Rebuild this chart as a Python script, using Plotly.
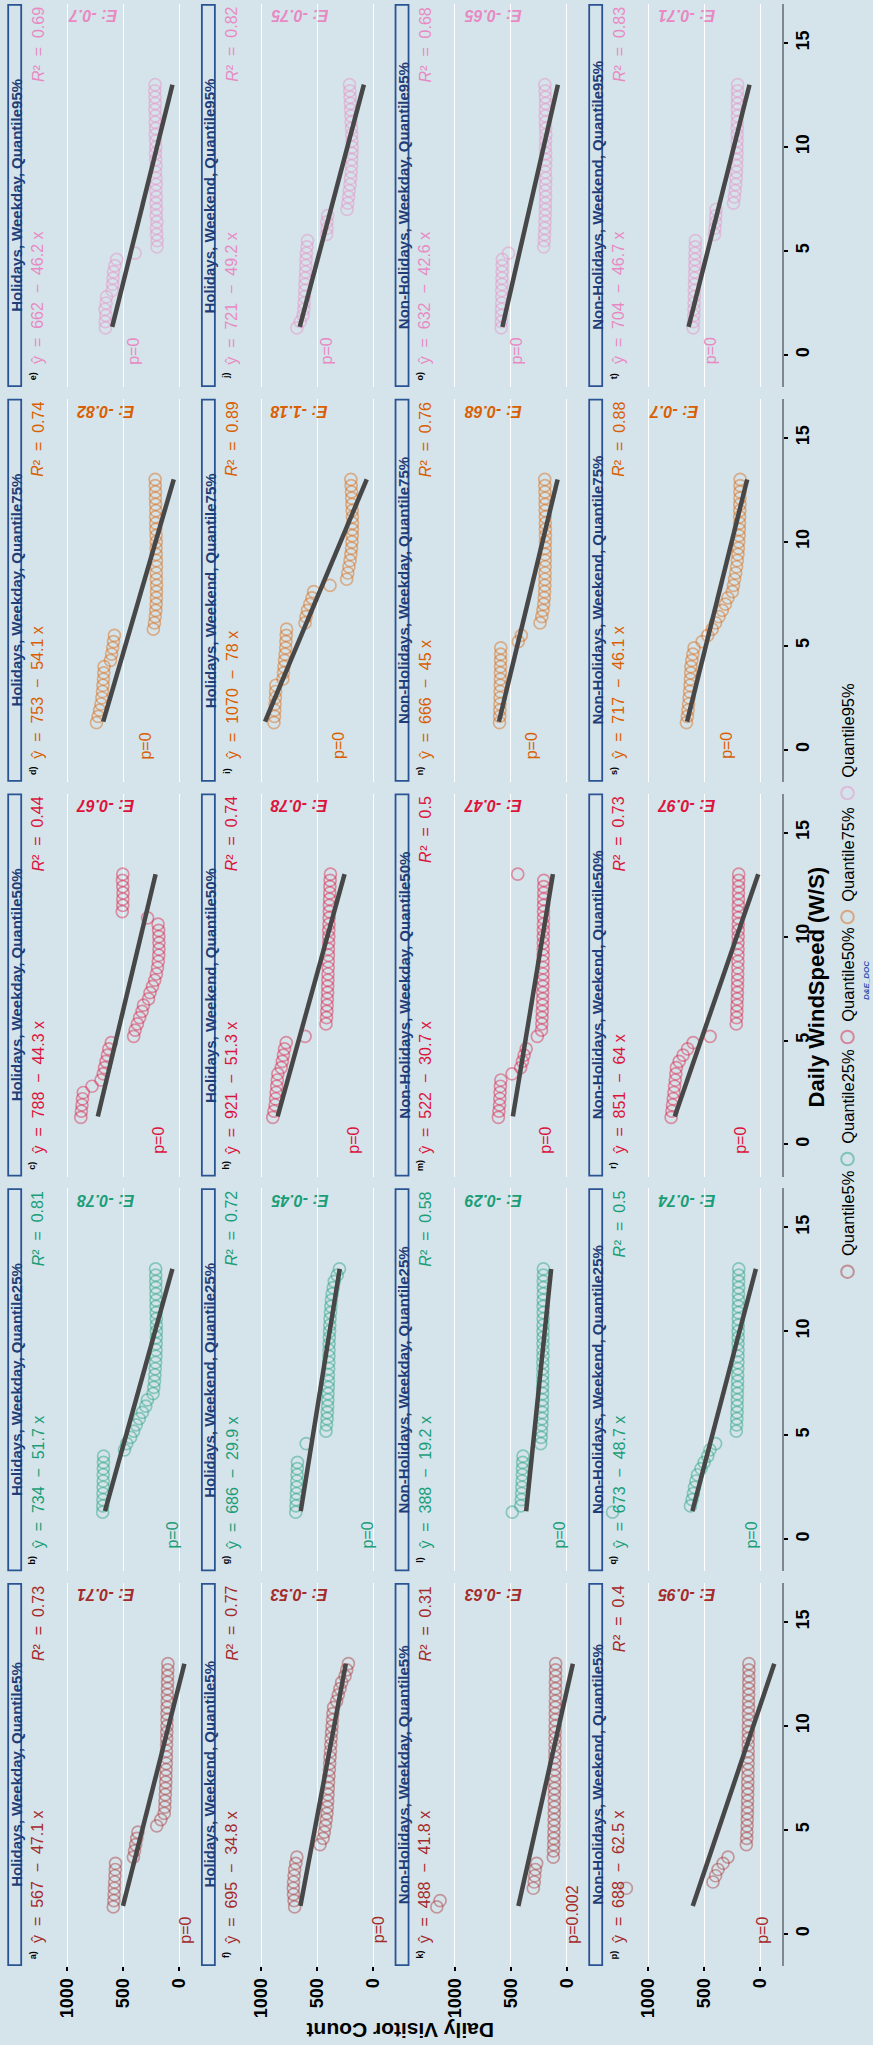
import plotly.graph_objects as go

# ---------------- data ----------------
WS = [1.3, 1.6, 1.9, 2.2, 2.5, 2.8, 3.1, 3.4, 3.7, 4.0, 4.3, 4.6, 4.9, 5.2, 5.5, 5.8, 6.1, 6.4, 6.7, 7.0,
      7.3, 7.6, 7.9, 8.2, 8.5, 8.8, 9.1, 9.4, 9.7, 10.0, 10.3, 10.6, 10.9, 11.2, 11.5, 11.8, 12.1, 12.4, 12.7, 13.0]

GROUPS = ["Holidays, Weekday", "Holidays, Weekend", "Non-Holidays, Weekday", "Non-Holidays, Weekend"]
QUANTS = ["Quantile5%", "Quantile25%", "Quantile50%", "Quantile75%", "Quantile95%"]
COLORS = ["#A52A2A", "#1B9E77", "#DC143C", "#D95F02", "#E78AC3"]

hol_wkday_q05 = [590, 585, 582, 580, 578, 575, 572, 570, 410, 400, 390, 380, 370, 202, 165,
                 135, 130, 128, 125, 123, 121, 120, 118, 117, 116, 115, 114, 113, 112, 111,
                 110, 110, 109, 108, 107, 106, 105, 104, 103, 102]
hol_wkday_q25 = [685, 684, 683, 682, 681, 680, 680, 679, 678, 677, 490, 470, 435, 408, 385,
                 358, 330, 300, 285, 235, 228, 222, 218, 215, 212, 210, 208, 207, 206, 205,
                 205, 206, 207, 208, 208, 209, 210, 210, 211, 212]
hol_wkday_q50 = [880, 875, 870, 865, 858, 780, 700, 680, 668, 655, 642, 630, 608, 408, 395,
                 375, 355, 333, 320, 275, 262, 240, 220, 205, 195, 188, 184, 182, 182, 183,
                 185, 190, 284, 510, 505, 505, 503, 505, 508, 505]
hol_wkday_q75 = [740, 725, 712, 700, 692, 686, 682, 678, 675, 672, 615, 605, 595, 588, 580,
                 232, 222, 215, 210, 207, 205, 204, 203, 205, 206, 204, 205, 207, 208, 206,
                 208, 210, 211, 212, 210, 212, 214, 213, 215, 216]
hol_wkday_q95 = [660, 662, 657, 664, 655, 650, 600, 596, 592, 588, 576, 560, 395, 200, 198,
                 203, 205, 200, 207, 204, 208, 205, 210, 206, 209, 212, 208, 211, 214, 210,
                 213, 215, 212, 216, 214, 218, 215, 217, 219, 216]
hol_wkend_q05 = [700, 705, 710, 712, 710, 705, 700, 690, 680, None, 473, 446, 435, 425, 418,
                 412, 408, 405, 402, 400, 397, 394, 390, 387, 384, 380, 377, 374, 370, 366,
                 362, 358, 352, 325, 310, 295, 280, 250, 235, 220]
hol_wkend_q25 = [690, 688, 686, 684, 682, 680, 678, 676, 675, None, None, 597, None, 420, 415,
                 410, 408, 405, 403, 402, 400, 398, 398, 396, 395, 394, 393, 392, 390, 388,
                 386, 384, 380, 376, 372, 365, 355, 346, 320, 300]
hol_wkend_q50 = [895, 885, 875, 870, 865, 860, 855, 850, 820, 810, 800, 790, 775, 607, None,
                 420, 415, 412, 410, 408, 405, 405, 403, 402, 400, 400, 398, 398, 396, 395,
                 395, 393, 392, 390, 390, 388, 386, 385, 383, 380]
hol_wkend_q75 = [885, 880, 878, 875, 872, 870, 868, 805, 800, 795, 790, 785, 780, 778, 775,
                 772, 607, 598, 585, 565, 545, 530, 384, 235, 225, 215, 205, 198, 192, 188,
                 185, 184, 183, 184, 186, 188, 190, 192, 195, 198]
hol_wkend_q95 = [680, 650, 625, 618, 615, 612, 610, 607, 605, 603, 600, 598, 595, 590, 585,
                 415, 410, 412, 405, 232, 225, 218, 212, 205, 200, 195, 192, 190, 188, 186,
                 188, 190, 192, 195, 197, 200, 202, 205, 207, 210]
nonhol_wkday_q05 = [1160, 1131, None, 298, 290, 285, 280, 268, 120, 118, 116, 115, 114, 113, 112,
                    111, 110, 110, 109, 108, 108, 107, 106, 106, 105, 105, 104, 104, 103, 103,
                    102, 102, 101, 101, 100, 100, 100, 99, 99, 98]
nonhol_wkday_q25 = [486, 410, 405, 402, 400, 398, 396, 395, 393, 390, None, 232, 228, 225, 222,
                    220, 218, 217, 216, 215, 215, 214, 214, 213, 213, 212, 212, 212, 211, 211,
                    211, 210, 210, 210, 210, 209, 209, 209, 208, 208]
nonhol_wkday_q50 = [610, 605, 600, 597, 595, 592, 588, 488, 411, 395, 380, 362, None, 262, 225,
                    222, 220, 218, 216, 215, 214, 213, 212, 212, 211, 211, 210, 210, 209, 209,
                    208, 208, 207, 207, 206, 206, 205, 205, 204, 437]
nonhol_wkday_q75 = [600, 598, 597, 596, 595, 594, 593, 592, 592, 591, 590, 590, 589, 432, 405,
                    None, 238, 222, 212, 205, 200, 197, 195, 194, 193, 192, 192, 191, 191, 190,
                    190, 190, 191, 191, 192, 192, 193, 194, 195, 196]
nonhol_wkday_q95 = [585, 584, 583, 582, 581, 580, 580, 579, 578, 577, 576, 575, 520, 205, 200,
                    198, 195, 193, 192, 190, 190, 188, 190, 188, 187, 190, 188, 186, 188, 190,
                    188, 186, 188, 190, 192, 190, 188, 190, 192, 195]
nonhol_wkend_q05 = [None, None, None, 1197, 423, 400, 378, 333, 289, None, 125, 122, 120, 118, 117,
                    116, 115, 114, 113, 112, 112, 111, 110, 110, 109, 109, 108, 108, 107, 107,
                    106, 106, 105, 105, 104, 104, 103, 103, 102, 102]
nonhol_wkend_q25 = [1320, 624, 610, 598, 588, 575, 562, 530, 502, 470, 450, 400, None, 215, 212,
                    210, 208, 207, 206, 205, 204, 203, 202, 201, 200, 200, 199, 199, 198, 198,
                    197, 197, 196, 196, 195, 195, 194, 194, 193, 193]
nonhol_wkend_q50 = [797, 790, 785, 778, 772, 766, 760, 755, 750, 725, 690, 650, 600, 449, None,
                    215, 212, 210, 208, 206, 205, 204, 203, 202, 201, 200, 200, 199, 199, 198,
                    198, 197, 197, 196, 196, 195, 195, 194, 194, 193]
nonhol_wkend_q75 = [660, 652, 646, 641, 636, 632, 628, 625, 622, 620, 612, 603, 592, 520, 470,
                    430, 400, 370, 340, 312, 290, 250, 240, 230, 220, 212, 206, 200, 196, 193,
                    190, 188, 186, 185, 184, 183, 182, 182, 181, 180]
nonhol_wkend_q95 = [600, 598, 595, 593, 592, 590, 590, 588, 588, 586, 585, 585, 583, 582, 580,
                    410, 405, 400, 398, 395, 240, 232, 225, 220, 216, 213, 211, 210, 209, 208,
                    207, 207, 206, 206, 205, 205, 205, 204, 204, 203]

# panel order a..t : group-major, quantile-minor
VIS = [hol_wkday_q05, hol_wkday_q25, hol_wkday_q50, hol_wkday_q75, hol_wkday_q95,
       hol_wkend_q05, hol_wkend_q25, hol_wkend_q50, hol_wkend_q75, hol_wkend_q95,
       nonhol_wkday_q05, nonhol_wkday_q25, nonhol_wkday_q50, nonhol_wkday_q75, nonhol_wkday_q95,
       nonhol_wkend_q05, nonhol_wkend_q25, nonhol_wkend_q50, nonhol_wkend_q75, nonhol_wkend_q95]
LETTERS = list("abcdefghijklmnopqrst")
INTERCEPT = [567, 734, 788, 753, 662, 695, 686, 921, 1070, 721, 488, 388, 522, 666, 632, 688, 673, 851, 717, 704]
SLOPE = [-47.1, -51.7, -44.3, -54.1, -46.2, -34.8, -29.9, -51.3, -78, -49.2,
         -41.8, -19.2, -30.7, -45, -42.6, -62.5, -48.7, -64, -46.1, -46.7]
R2 = ["0.73", "0.81", "0.44", "0.74", "0.69", "0.77", "0.72", "0.74", "0.89", "0.82",
      "0.31", "0.58", "0.5", "0.76", "0.68", "0.4", "0.5", "0.73", "0.88", "0.83"]
PVAL = ["0", "0", "0", "0", "0", "0", "0", "0", "0", "0",
        "0.002", "0", "0", "0", "0", "0", "0", "0", "0", "0"]
ELAST = ["-0.71", "-0.78", "-0.67", "-0.82", "-0.7", "-0.53", "-0.45", "-0.78", "-1.18", "-0.75",
         "-0.63", "-0.29", "-0.47", "-0.68", "-0.65", "-0.95", "-0.74", "-0.97", "-0.7", "-0.71"]
P_POS = [-58, 62, 187, 299, 406, -56, 51, 176, 310, 415, -50, 66, 191, 313, 447, -23, 80, 178, 305, 438]
LINE_WS = [1.35, 13.0]
VIS_TICKS = [0, 500, 1000]
WS_TICKS = [0, 5, 10, 15]

# ---------------- geometry / style ----------------
W, H = 873, 2045
BG = "#d5e4eb"
FONT = "Liberation Sans, Arial, sans-serif"
COL_PITCH = 193.67
PLOT_L0, PLOT_W = 21.5, 179.1
ROW_T0, ROW_PITCH, ROW_H = 4.0, 394.75, 383.0
X_RANGE = [1410, -190]
Y_RANGE = [-1.54, 16.88]
PX_PER_WS = ROW_H / (Y_RANGE[1] - Y_RANGE[0])
STRIP_COLOR = "#2A5394"
STRIP_TEXT = "#1F3D78"
LABEL_SIZE = 16
NB = "\u00a0"
# Arial/Liberation Sans advance widths (em) for the characters of the R2 label
CHAR_W = {"\u00b2": 0.333, NB: 0.278, "=": 0.584, ".": 0.278}


def text_len(s, size):
    return sum(CHAR_W.get(c, 0.556) for c in s) * size


def rgba(hx, a):
    hx = hx.lstrip("#")
    return "rgba(%d,%d,%d,%.2f)" % (int(hx[0:2], 16), int(hx[2:4], 16), int(hx[4:6], 16), a)


def px(xp):
    return xp / W


def py(yp):
    return 1 - yp / H


fig = go.Figure()
axes = {}
ann = []
shapes = []

for g in range(4):
    for q in range(5):
        k = g * 5 + q
        r = 4 - q
        n = r * 4 + g + 1
        sfx = "" if n == 1 else str(n)
        xn, yn = "x" + sfx, "y" + sfx
        x0 = PLOT_L0 + g * COL_PITCH
        x1 = x0 + PLOT_W
        y0 = ROW_T0 + r * ROW_PITCH
        y1 = y0 + ROW_H
        bottom_row = (r == 4)
        right_col = (g == 3)
        axes["xaxis" + sfx] = dict(
            domain=[px(x0), px(x1)], anchor=yn, range=X_RANGE, showgrid=True,
            gridcolor="white", gridwidth=1.4, zeroline=False, showline=False,
            tickmode="array", tickvals=VIS_TICKS, ticktext=[str(v) for v in VIS_TICKS],
            showticklabels=bottom_row, ticks="outside" if bottom_row else "",
            ticklen=4, tickwidth=2.2, tickcolor="black", tickangle=-90,
            tickfont=dict(size=18, color="black", family=FONT, weight="bold"),
            fixedrange=True)
        axes["yaxis" + sfx] = dict(
            domain=[py(y1), py(y0)], anchor=xn, range=Y_RANGE, showgrid=False,
            zeroline=False, side="right", showline=right_col, linecolor="#7f8891",
            linewidth=2, tickmode="array", tickvals=WS_TICKS,
            ticktext=[str(v) for v in WS_TICKS], showticklabels=right_col,
            ticks="outside" if right_col else "", ticklen=4, tickwidth=2.2,
            tickcolor="black", tickangle=-90,
            tickfont=dict(size=18, color="black", family=FONT, weight="bold"),
            fixedrange=True)

        col = COLORS[q]
        fig.add_trace(go.Scatter(
            x=VIS[k], y=WS, mode="markers", xaxis=xn, yaxis=yn, showlegend=False,
            hoverinfo="skip",
            marker=dict(symbol="circle-open", size=12, color=rgba(col, 0.42),
                        line=dict(width=1.7))))
        a, b = INTERCEPT[k], SLOPE[k]
        fig.add_trace(go.Scatter(
            x=[a + b * LINE_WS[0], a + b * LINE_WS[1]], y=LINE_WS, mode="lines",
            xaxis=xn, yaxis=yn, showlegend=False, hoverinfo="skip",
            line=dict(color="#474747", width=4.5)))

        # strip
        sx0 = 8.2 + g * COL_PITCH
        sx1 = 21.2 + g * COL_PITCH
        shapes.append(dict(type="rect", xref="paper", yref="paper",
                           x0=px(sx0), x1=px(sx1), y0=py(y1 - 0.9), y1=py(y0 + 0.9),
                           line=dict(color=STRIP_COLOR, width=1.8), fillcolor=BG, layer="above"))
        ann.append(dict(xref="paper", yref="paper", x=px(16.3 + g * COL_PITCH),
                        y=py((y0 + y1) / 2), text=GROUPS[g] + ", " + QUANTS[q],
                        textangle=-90, showarrow=False, xanchor="center", yanchor="middle",
                        font=dict(size=15, color=STRIP_TEXT, family=FONT, weight="bold")))

        eq = ("\u0177" + NB * 2 + "=" + NB * 2 + str(a) + NB * 2 + "\u2212" + NB * 2 +
              ("%g" % abs(b)) + NB + "x")
        common = dict(xref=xn, yref=yn, showarrow=False)
        ann.append(dict(common, x=1312, y=-1.0, text=LETTERS[k] + ")", textangle=-90,
                        xanchor="center", yanchor="middle",
                        font=dict(size=9, color="black", family=FONT, weight="bold")))
        ann.append(dict(common, x=1262, y=-0.55, text=eq, textangle=-90,
                        xanchor="center", yanchor="bottom",
                        font=dict(size=LABEL_SIZE, color=col, family=FONT)))
        # R^2 label: italic "R" + plain "² = value", top-aligned to the panel edge
        rest = "\u00b2" + NB * 2 + "=" + NB * 2 + R2[k]
        r_top = 16.86
        ann.append(dict(common, x=1262, y=r_top, text=rest, textangle=-90,
                        xanchor="center", yanchor="top",
                        font=dict(size=LABEL_SIZE, color=col, family=FONT)))
        ann.append(dict(common, x=1262, y=r_top - text_len(rest, LABEL_SIZE) / PX_PER_WS,
                        text="R", textangle=-90, xanchor="center", yanchor="top",
                        font=dict(size=LABEL_SIZE, color=col, family=FONT, style="italic")))
        ann.append(dict(common, x=P_POS[k], y=-0.55, text="p=" + PVAL[k], textangle=-90,
                        xanchor="center", yanchor="bottom",
                        font=dict(size=LABEL_SIZE, color=col, family=FONT)))
        etxt = "E: " + ELAST[k]
        ex = 659 if len(etxt) >= 8 else 775
        ann.append(dict(common, x=ex, y=16.3, text=etxt, textangle=180,
                        xanchor="center", yanchor="middle",
                        font=dict(size=LABEL_SIZE, color=col, family=FONT, weight="bold",
                                  style="italic")))

# axis titles
ann.append(dict(xref="paper", yref="paper", x=px(816.4), y=py(987),
                text="Daily WindSpeed (W/S)", textangle=-90, showarrow=False,
                xanchor="center", yanchor="middle",
                font=dict(size=22, color="black", family=FONT, weight="bold")))
ann.append(dict(xref="paper", yref="paper", x=px(401), y=py(2030.6),
                text="Daily Visitor Count", textangle=180, showarrow=False,
                xanchor="center", yanchor="middle",
                font=dict(size=21, color="black", family=FONT, weight="bold")))
ann.append(dict(xref="paper", yref="paper", x=px(867), y=py(981),
                text="D&E_DOC", textangle=-90, showarrow=False,
                xanchor="center", yanchor="middle",
                font=dict(size=8, color="#3050b0", family=FONT, weight="bold", style="italic")))

# legend (drawn manually so it can be rotated)
LEG_CY = [1271.7, 1159.0, 1037.0, 917.0, 793.0]
for i, qn in enumerate(QUANTS):
    cy = LEG_CY[i]
    shapes.append(dict(type="circle", xref="paper", yref="paper",
                       x0=px(847.5 - 6.3), x1=px(847.5 + 6.3), y0=py(cy + 6.3), y1=py(cy - 6.3),
                       line=dict(color=rgba(COLORS[i], 0.45), width=2)))
    ann.append(dict(xref="paper", yref="paper", x=px(847.8), y=py(cy - 13.5),
                    text=qn, textangle=-90, showarrow=False, xanchor="center",
                    yanchor="bottom", font=dict(size=16.5, color="black", family=FONT)))

fig.update_layout(
    width=W, height=H, margin=dict(l=0, r=0, t=0, b=0),
    paper_bgcolor=BG, plot_bgcolor=BG, showlegend=False, hovermode=False,
    font=dict(family=FONT), annotations=ann, shapes=shapes, **axes)

POST = "document.body.style.margin='0px';document.body.style.overflow='hidden';"
fig.write_html("out.html", config={"displayModeBar": False}, post_script=POST)
